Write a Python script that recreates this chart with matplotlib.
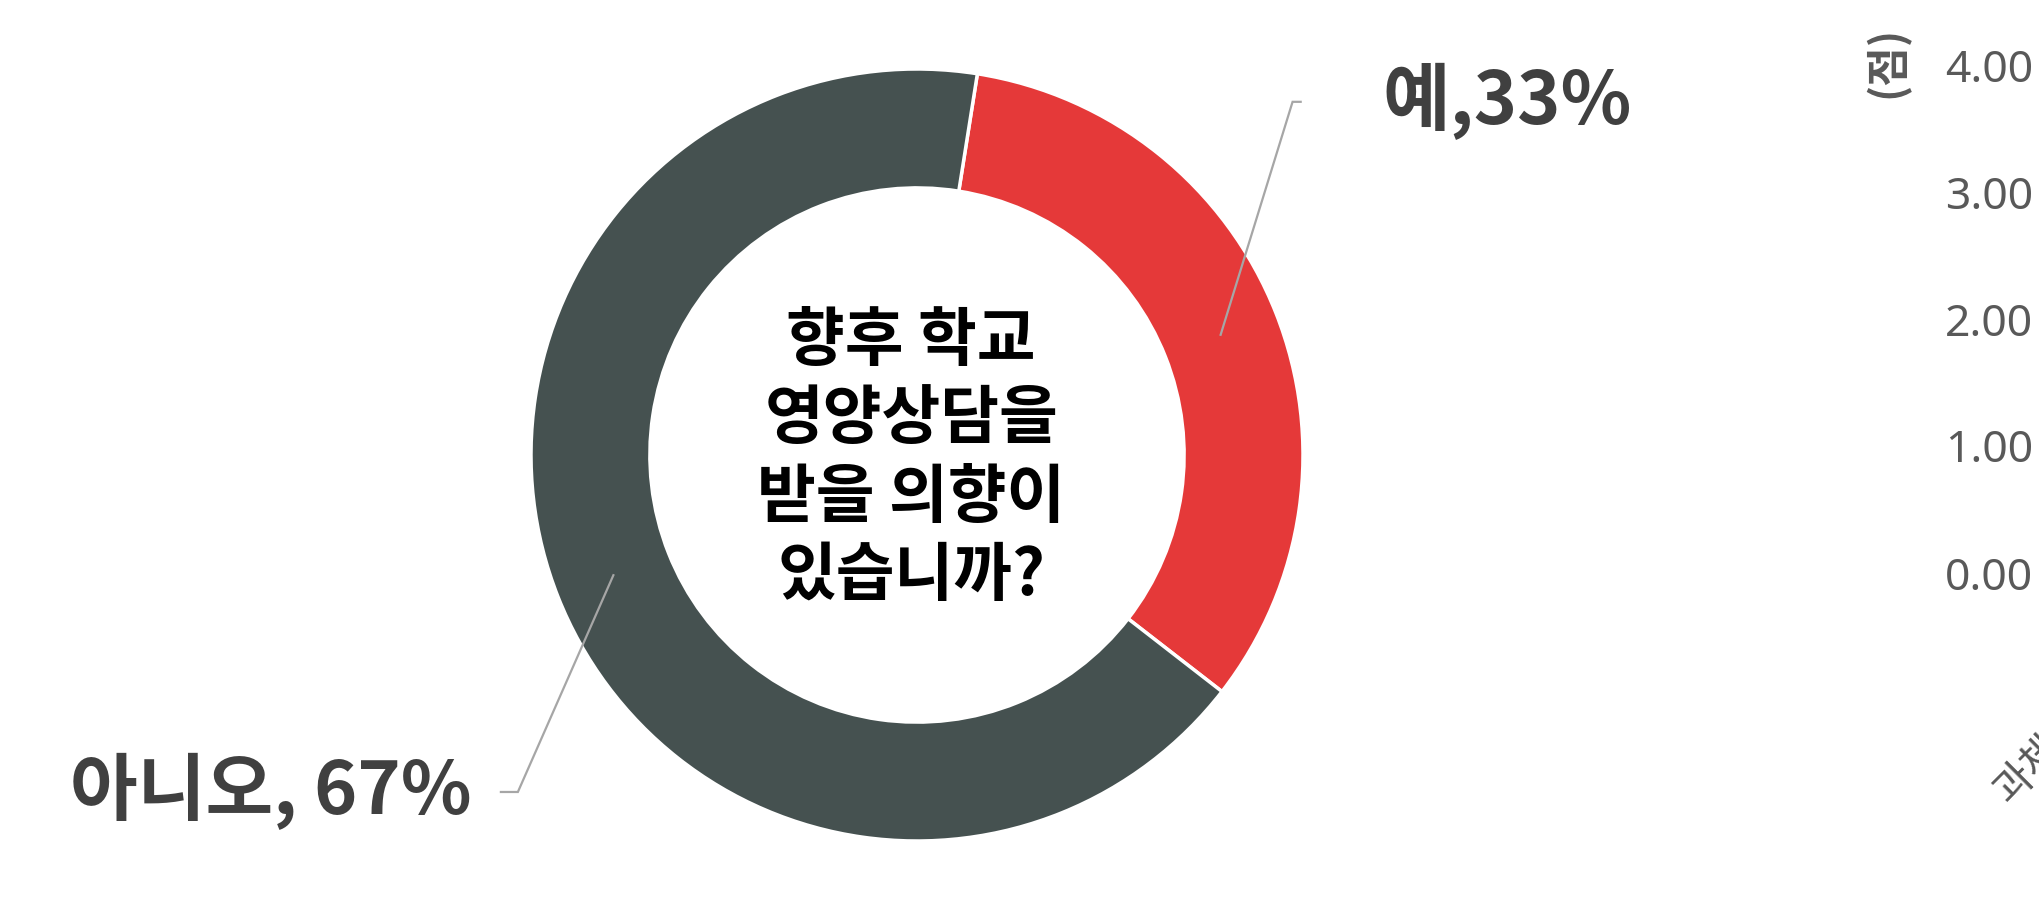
import numpy as np
import matplotlib
matplotlib.use("Agg")
import matplotlib.pyplot as plt

plt.rcParams['font.family'] = ['Noto Sans CJK KR', 'DejaVu Sans']

# donut data
labels = ['예', '아니오']
shares = [33, 67]
colors = ['#E53939', '#455150']
label_fmt = ['{},{}%', '{}, {}%']
question = '향후 학교\n영양상담을\n받을 의향이\n있습니까?'

# neighbouring score chart (mostly off the canvas)
score_ticks = [0, 1, 2, 3, 4]
score_unit = '(점)'
score_categories = ['과체중']

fig = plt.figure(figsize=(20.39, 9.07), dpi=100)
W, H = 2039, 907

# donut axes: centre (917, 455) px, radius 386 px
cx, cy, R = 917, 455, 386
ax = fig.add_axes([(cx - R) / W, (H - cy - R) / H, 2 * R / W, 2 * R / H])

ring = 0.308
wedges, _ = ax.pie(shares, colors=colors, startangle=81, counterclock=False,
                   radius=1.0,
                   wedgeprops=dict(width=ring, edgecolor='white', linewidth=2.5))
# pie() resets the limits, so fix them afterwards
ax.set_xlim(-1, 1)
ax.set_ylim(-1, 1)
ax.set_aspect('equal')
ax.axis('off')

# leader lines and labels
elbows = [(0.973, 0.915), (-1.034, -0.873)]
ends = [0.994, -1.078]
text_x = [1.207, -1.153]
for i, w in enumerate(wedges):
    mid = np.deg2rad((w.theta1 + w.theta2) / 2)
    r_mid = 1 - ring / 2
    sx, sy = r_mid * np.cos(mid), r_mid * np.sin(mid)
    ex, ey = elbows[i]
    ax.plot([sx, ex, ends[i]], [sy, ey, ey], color='#A6A6A6', lw=1.6,
            solid_joinstyle='miter', clip_on=False)
    ha = 'left' if ends[i] > 0 else 'right'
    ax.text(text_x[i], ey, label_fmt[i].format(labels[i], shares[i]),
            ha=ha, va='center', fontsize=53, fontweight='bold', color='#404040')

ax.text(-0.015, -0.01, question, ha='center', va='center', fontsize=46,
        fontweight='bold', color='black', linespacing=1.25)

# score axis on the right edge
y0, y4 = 573, 65
ax2 = fig.add_axes([1.0, (H - y0) / H, 0.1, (y0 - y4) / H])
ax2.set_ylim(score_ticks[0], score_ticks[-1])
ax2.set_yticks(score_ticks)
ax2.set_yticklabels(['{:.2f}'.format(v) for v in score_ticks],
                    family='Noto Sans', fontweight=600)
ax2.tick_params(axis='y', length=0, pad=4.5, labelsize=32, labelcolor='#595959')
ax2.set_xticks([])
for s in ax2.spines.values():
    s.set_visible(False)

fig.text(1887 / W, (H - 62) / H, score_unit, rotation=90, ha='center', va='center',
         fontsize=31, fontweight='bold', color='#595959')
fig.text(2016 / W, (H - 812) / H, score_categories[0], rotation=45, ha='left',
         va='bottom', rotation_mode='anchor', fontsize=30, color='#595959')

fig.savefig('out.png', dpi=100, facecolor='white')
